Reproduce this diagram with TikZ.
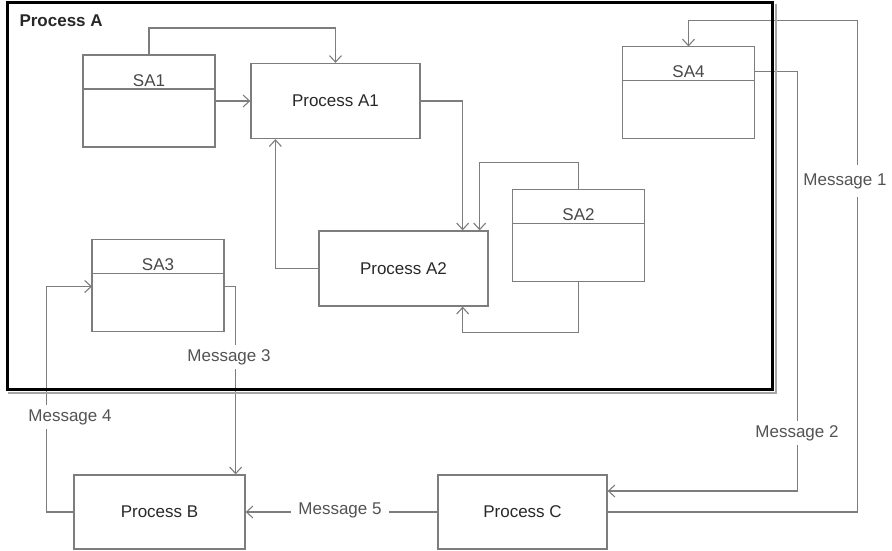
\documentclass[tikz,border=0pt]{standalone}
\usepackage{fontspec}
\setmainfont{Liberation Sans}
\usetikzlibrary{positioning,arrows.meta}

\definecolor{linegray}{RGB}{125,125,125}
\definecolor{textgray}{RGB}{40,40,40}

\begin{document}
\begin{tikzpicture}[x=1pt,y=-1pt,
    every node/.style={font=\fontsize{17}{20}\selectfont},
    wire/.style={draw=linegray, line width=1.3pt},
    flow/.style={wire, -{Straight Barb[length=6.5pt,width=12pt,line width=1.1pt]}},
    proc/.style={draw=linegray, line width=1.3pt, minimum width=169pt, minimum height=75pt, inner sep=0pt, text=textgray},
    storehead/.style={draw=linegray, line width=1.3pt, outer sep=0pt, minimum width=132pt, minimum height=34pt, inner sep=3pt, text height=28pt, text depth=0pt, text=textgray!85},
    storebody/.style={draw=linegray, line width=1.3pt, outer sep=0pt, minimum width=132pt, minimum height=58pt},
    msg/.style={fill=white, text=textgray!80, inner xsep=7pt, inner ysep=4pt},
    frame/.style={draw=black, line width=3pt, minimum width=765pt, minimum height=386pt}]

\useasboundingbox (0,0) rectangle (892,551);

% Processes
\node[proc] (a1) at (335.5,101) {Process A1};
\node[proc] (a2) at (403.5,268.5) {Process A2};
\node[proc, minimum width=171pt, minimum height=74pt] (pb) at (159.5,512) {Process B};
\node[proc, minimum height=74pt] (pc) at (522.5,512) {Process C};

% Stores
\node[storehead] (sa1) at (149,72) {SA1};
\node[storebody, below=0pt of sa1] (sa1b) {};

\node[storehead] (sa2) at (578.5,206.5) {SA2};
\node[storebody, below=0pt of sa2] (sa2b) {};

\node[storehead] (sa3) at (158,256.5) {SA3};
\node[storebody, below=0pt of sa3] (sa3b) {};

\node[storehead] (sa4) at (688.5,63.5) {SA4};
\node[storebody, below=0pt of sa4] (sa4b) {};

% Inside process A
\draw[flow] (sa1.north) -- ++(0,-27) -| (a1.north);
\draw[flow] (sa1b.east |- a1) -- (a1.west);
\draw[flow] (a1.east) -| ([xshift=-26pt]a2.north east);
\draw[flow] (a2.west) -| ([xshift=25pt]a1.south west);
\draw[flow] (sa2.north) -- ++(0,-27) -| ([xshift=-9pt]a2.north east);
\draw[flow] (sa2b.south) -- ++(0,51) -| ([xshift=-26pt]a2.south east);

% Messages
\draw[flow] (pc.east) -- ++(250,0) |- ([yshift=26pt]sa4.north) -- (sa4.north);
\draw[flow] ([yshift=-8pt]sa4.east) -- ++(43,0) |- ([yshift=21pt]pc.east);
\draw[flow] ([yshift=-13pt]sa3b.north east) -| ([xshift=-10pt]pb.north east);
\draw[flow] (pb.west) -- ++(-27,0) |- ([yshift=-13pt]sa3b.north west);
\draw[flow] (pc.west) -- (pb.east);

\node[msg, inner xsep=2pt, inner ysep=8pt] (m1) at (845,181) {Message 1};
\node[msg] (m2) at (797,433) {Message 2};
\node[msg] (m3) at (229,357) {Message 3};
\node[msg] (m4) at (70,417) {Message 4};
\node[msg] (m5) at (340,510) {Message 5};

% Process A
\node[frame] (procA) at (389.5,196) {};
\draw[black!35, line width=1.5pt]
    ([shift={(2.5pt,-2.5pt)}]procA.north east) -- ([shift={(2.5pt,-2.5pt)}]procA.south east)
    -- ([shift={(2.5pt,-2.5pt)}]procA.south west);
\node[anchor=west, font=\fontsize{17}{20}\selectfont\bfseries, text=textgray] (titleA) at (16,21) {Process A};

\end{tikzpicture}
\end{document}
